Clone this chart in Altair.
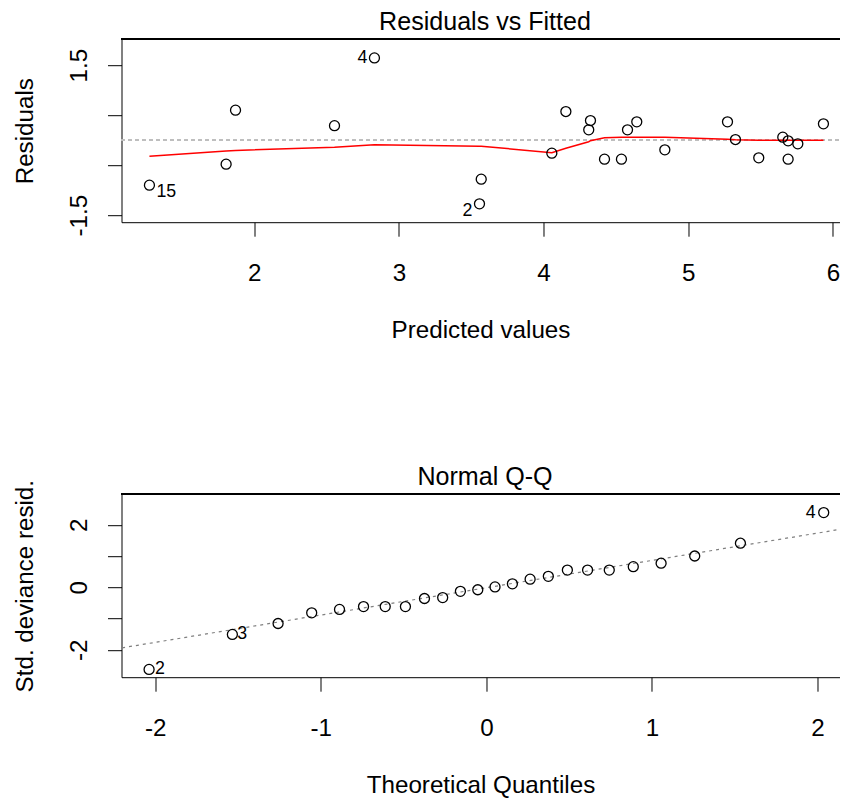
import altair as alt
import pandas as pd

FONT = "Liberation Sans"
FS = 24.2
FS_CAP = 25.1
FS_ID = 17.8

# ---------------- Residuals vs Fitted ----------------
rf_caption = ["Residuals vs Fitted"]
fitted = [1.276, 1.806, 1.871, 2.555, 2.831, 3.557, 3.569, 4.057, 4.154, 4.312,
          4.324, 4.421, 4.538, 4.580, 4.644, 4.838, 5.271, 5.326, 5.487, 5.653,
          5.690, 5.690, 5.757, 5.934]
residuals = [-0.90, -0.48, 0.60, 0.29, 1.646, -1.273, -0.78, -0.26, 0.573, 0.207,
             0.393, -0.38, -0.38, 0.207, 0.367, -0.193, 0.367, 0.013, -0.353, 0.06,
             -0.013, -0.38, -0.073, 0.327]
smooth = [-0.32, -0.215, -0.205, -0.14, -0.09, -0.12, -0.12, -0.25, -0.16, -0.03,
          -0.01, 0.05, 0.06, 0.06, 0.06, 0.06, 0.02, 0.01, 0.0, 0.0,
          0.0, 0.0, 0.0, 0.0]
rf_ids = ["15", "", "", "", "4", "2", "", "", "", "",
          "", "", "", "", "", "", "", "", "", "",
          "", "", "", ""]
rf_xticks = [2, 3, 4, 5, 6]
rf_yticks = [-1.5, -1.0, -0.5, 0.0, 0.5, 1.0, 1.5]

# ---------------- Normal Q-Q ----------------
qq_caption = ["Normal Q-Q"]
theo_q = [-2.037, -1.534, -1.258, -1.055, -0.887, -0.742, -0.611, -0.489, -0.374, -0.264,
          -0.157, -0.052, 0.052, 0.157, 0.264, 0.374, 0.489, 0.611, 0.742, 0.887,
          1.055, 1.258, 1.534, 2.037]
std_resid = [-2.63, -1.51, -1.16, -0.82, -0.71, -0.62, -0.62, -0.62, -0.36, -0.33,
             -0.13, -0.08, 0.01, 0.11, 0.26, 0.35, 0.55, 0.55, 0.55, 0.66,
             0.77, 1.00, 1.41, 2.39]
qq_ids = ["2", "3", "", "", "", "", "", "", "", "",
          "", "", "", "", "", "", "", "", "", "",
          "", "", "", "4"]
qqline_x = [-2.2, 2.2]
qqline_y = [-1.94, 1.91]
qq_xticks = [-2, -1, 0, 1, 2]
qq_yticks = [-2, -1, 0, 1, 2]

W, H = 718, 183

rf = pd.DataFrame({"x": fitted, "y": residuals, "s": smooth, "id": rf_ids})
qq = pd.DataFrame({"x": theo_q, "y": std_resid, "id": qq_ids})
qql = pd.DataFrame({"x": qqline_x, "y": qqline_y})


def xaxis(title, values, label_expr):
    return alt.Axis(
        title=title, values=values, labelExpr=label_expr, grid=False,
        domainColor="black", tickColor="black", tickSize=14, labelColor="black",
        labelFont=FONT, labelFontSize=FS, labelPadding=44, labelBaseline="alphabetic",
        labelFlush=False, labelOverlap=False,
        titleFont=FONT, titleFontSize=FS, titleFontWeight="normal", titleColor="black",
        titleBaseline="alphabetic", titleY=115, titleAnchor="middle",
    )


def yaxis(title, values, label_expr):
    return alt.Axis(
        title=title, values=values, labelExpr=label_expr, grid=False,
        domainColor="black", tickColor="black", tickSize=14, labelColor="black",
        labelFont=FONT, labelFontSize=FS, labelAngle=270, labelAlign="center",
        labelBaseline="alphabetic", labelPadding=21, labelFlush=False, labelOverlap=False,
        titleFont=FONT, titleFontSize=FS, titleFontWeight="normal", titleColor="black",
        titleAngle=270, titleAlign="center", titleBaseline="alphabetic",
        titleX=-89, titleY=H / 2,
    )


minus_expr = "datum.value < 0 ? '-' + toString(abs(datum.value)) : toString(datum.value)"


def caption(text_list):
    return alt.Chart(pd.DataFrame({"t": text_list})).mark_text(
        font=FONT, fontSize=FS_CAP, color="black", align="center", baseline="top"
    ).encode(x=alt.value(W / 2 + 4.5), y=alt.value(-28.8), text="t:N")


def lab(base, xenc, yenc, name, align, dx, dy):
    return base.transform_filter(alt.datum.id == name).mark_text(
        font=FONT, fontSize=FS_ID, color="black", align=align, baseline="middle", dx=dx, dy=dy
    ).encode(x=xenc, y=yenc, text="id:N")


# top panel
xs_top = alt.Scale(domain=[1.083, 1.083 + W / 144.7], nice=False, zero=False)
ys_top = alt.Scale(domain=[-1.64, 2.02], nice=False, zero=False)
x_top = alt.X("x:Q", scale=xs_top,
              axis=xaxis("Predicted values", rf_xticks, "toString(datum.value)"))
y_top = alt.Y("y:Q", scale=ys_top,
              axis=yaxis("Residuals", rf_yticks,
                         "datum.value == 1.5 ? '1.5' : datum.value == 0 ? '0.0' : datum.value == -1.5 ? '-1.5' : ''"))

base_top = alt.Chart(rf)
zero_line = base_top.mark_rule(color="#bebebe", strokeDash=[3, 4], strokeWidth=1.2).encode(
    y=alt.datum(0, scale=ys_top), x=alt.value(0), x2=alt.value(W))
top_border = base_top.mark_rule(color="black", strokeWidth=1).encode(
    x=alt.value(0), x2=alt.value(W), y=alt.value(0))
smooth_line = base_top.mark_line(color="red", strokeWidth=1.5).encode(
    x=x_top, y=alt.Y("s:Q", scale=ys_top), order="x:Q")
pts_top = base_top.mark_point(shape="circle", filled=False, color="black", size=100,
                              strokeWidth=1.3, opacity=1).encode(x=x_top, y=y_top)

top = alt.layer(
    zero_line, smooth_line, pts_top,
    lab(base_top, x_top, y_top, "15", "left", 7, 7),
    lab(base_top, x_top, y_top, "4", "right", -7, 0),
    lab(base_top, x_top, y_top, "2", "right", -7, 7),
    top_border, caption(rf_caption),
).properties(width=W, height=H)

# bottom panel
xs_bot = alt.Scale(domain=[-2.2035, -2.2035 + W / 165.6], nice=False, zero=False)
ys_bot = alt.Scale(domain=[-2.88, 2.98], nice=False, zero=False)
x_bot = alt.X("x:Q", scale=xs_bot, axis=xaxis("Theoretical Quantiles", qq_xticks, minus_expr))
y_bot = alt.Y("y:Q", scale=ys_bot,
              axis=yaxis("Std. deviance resid.", qq_yticks,
                         "datum.value == 2 ? '2' : datum.value == 0 ? '0' : datum.value == -2 ? '-2' : ''"))

base_bot = alt.Chart(qq)
qq_line = alt.Chart(qql).mark_line(color="#7f7f7f", strokeDash=[3, 4], strokeWidth=1.2,
                                   clip=True).encode(
    x=alt.X("x:Q", scale=xs_bot), y=alt.Y("y:Q", scale=ys_bot))
bot_border = base_bot.mark_rule(color="black", strokeWidth=1).encode(
    x=alt.value(0), x2=alt.value(W), y=alt.value(0))
pts_bot = base_bot.mark_point(shape="circle", filled=False, color="black", size=100,
                              strokeWidth=1.3, opacity=1).encode(x=x_bot, y=y_bot)

bottom = alt.layer(
    qq_line, pts_bot,
    lab(base_bot, x_bot, y_bot, "2", "left", 6, 0),
    lab(base_bot, x_bot, y_bot, "3", "left", 5, 0),
    lab(base_bot, x_bot, y_bot, "4", "right", -8, 0),
    bot_border, caption(qq_caption),
).properties(width=W, height=H)

chart = alt.vconcat(top, bottom, spacing=272, bounds="flush").properties(
    padding={"left": 5.5, "top": 2.2, "right": 0, "bottom": 0},
    background="white",
).configure_view(stroke=None).configure_axis(domainWidth=1, tickWidth=1)

chart.save("out.html", embed_options={"renderer": "svg", "actions": False})
